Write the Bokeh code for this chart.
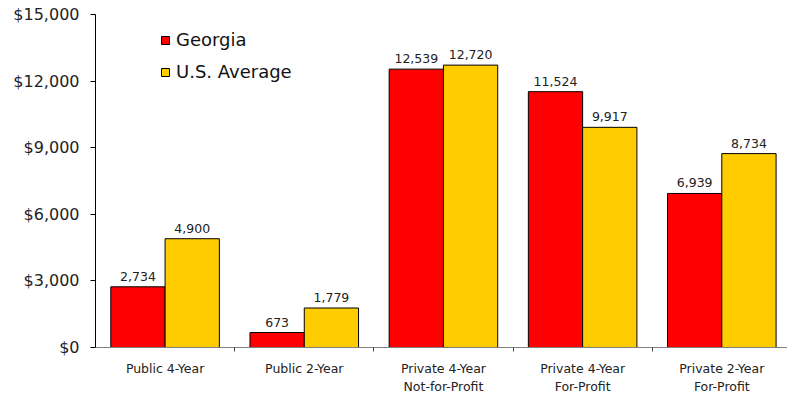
from bokeh.plotting import figure
from bokeh.models import (Range1d, FixedTicker, NumeralTickFormatter, ColumnDataSource,
                          Legend, LegendItem)
from bokeh.core.properties import value
from bokeh.embed import file_html
from bokeh.resources import INLINE

categories = ["Public 4-Year", "Public 2-Year", "Private 4-Year\nNot-for-Profit",
              "Private 4-Year\nFor-Profit", "Private 2-Year\nFor-Profit"]
georgia = [2734, 673, 12539, 11524, 6939]
us_average = [4900, 1779, 12720, 9917, 8734]
y_ticks = [0, 3000, 6000, 9000, 12000, 15000]
series_names = ["Georgia", "U.S. Average"]
colors = ["#FF0000", "#FFCC00"]

FONT = "DejaVu Sans"
n = len(categories)
idx = list(range(n))

p = figure(width=787, height=396, output_backend="svg", toolbar_location=None,
           x_range=Range1d(0, 4.972), y_range=Range1d(0, 15000))
p.min_border_left = 95
p.min_border_right = 0
p.min_border_top = 14
p.min_border_bottom = 46
p.outline_line_color = None
p.grid.visible = False
p.background_fill_color = "white"
p.border_fill_color = "white"

bw = 0.39
src_g = ColumnDataSource(dict(x=[i + 0.305 for i in idx], top=georgia,
                              lab=[f"{v:,}" for v in georgia]))
src_u = ColumnDataSource(dict(x=[i + 0.695 for i in idx], top=us_average,
                              lab=[f"{v:,}" for v in us_average]))
r_g = p.vbar(x="x", top="top", width=bw, source=src_g, fill_color=colors[0],
             line_color="black", line_width=1)
r_u = p.vbar(x="x", top="top", width=bw, source=src_u, fill_color=colors[1],
             line_color="black", line_width=1)
for s in (src_g, src_u):
    p.text(x="x", y="top", text="lab", source=s, text_align="center",
           text_baseline="bottom", y_offset=-6, text_font=value(FONT),
           text_font_size="12.5px", text_color="#222222")

# y axis
ya = p.yaxis[0]
ya.ticker = FixedTicker(ticks=y_ticks, minor_ticks=[])
ya.formatter = NumeralTickFormatter(format="$0,0")
ya.axis_line_color = "black"
ya.major_tick_line_color = "black"
ya.major_tick_in = 0
ya.major_tick_out = 5
ya.minor_tick_line_color = None
ya.major_label_text_font = FONT
ya.major_label_text_font_size = "16px"
ya.major_label_text_color = "#222222"
ya.major_label_standoff = 11

# x axis
xa = p.xaxis[0]
xa.ticker = FixedTicker(ticks=[i + 0.5 for i in idx], minor_ticks=[1, 2, 3, 4, 5])
xa.major_label_overrides = {i + 0.5: c for i, c in zip(idx, categories)}
xa.axis_line_color = "#808080"
xa.major_tick_line_color = None
xa.minor_tick_line_color = "#404040"
xa.minor_tick_in = 0
xa.minor_tick_out = 4
xa.major_label_text_font = FONT
xa.major_label_text_font_size = "12.5px"
xa.major_label_text_color = "#222222"
xa.major_label_standoff = 7

legend = Legend(items=[LegendItem(label=series_names[0], renderers=[r_g]),
                       LegendItem(label=series_names[1], renderers=[r_u])],
                location=(65, 265), padding=0, margin=0, spacing=11,
                glyph_width=10, glyph_height=10, label_height=20,
                label_standoff=6, label_text_font=FONT,
                label_text_font_size="18px", label_text_color="#111111",
                border_line_color=None, background_fill_alpha=0)
p.add_layout(legend)

open("out.html", "w").write(file_html(p, INLINE))
